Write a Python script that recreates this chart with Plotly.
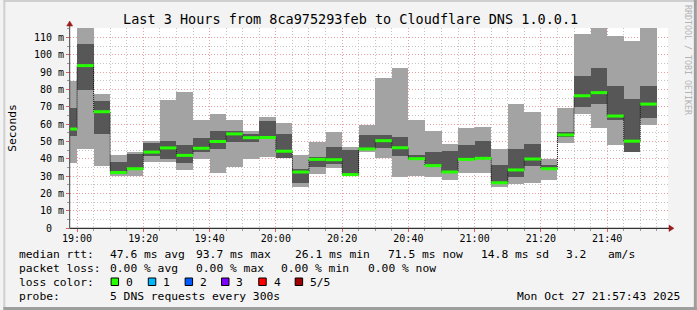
import plotly.graph_objects as go

# ---------------- data (ms) ----------------
day = "2025-10-27 "
bar_start = ["18:55", "19:00", "19:05", "19:10", "19:15", "19:20", "19:25", "19:30", "19:35",
             "19:40", "19:45", "19:50", "19:55", "20:00", "20:05", "20:10", "20:15", "20:20",
             "20:25", "20:30", "20:35", "20:40", "20:45", "20:50", "20:55", "21:00", "21:05",
             "21:10", "21:15", "21:20", "21:25", "21:30", "21:35", "21:40", "21:45", "21:50"]
bar_end_last = "21:55"

ping_min = [37.7, 45.6, 36.0, 29.8, 29.8, 37.9, 38.3, 33.5, 40.0,
            32.0, 35.4, 40.0, 40.9, 40.5, 23.7, 31.3, 34.6, 30.2,
            44.4, 40.6, 29.6, 30.2, 29.6, 27.7, 31.9, 31.9, 23.8,
            25.4, 26.0, 27.8, 49.0, 65.8, 57.9, 48.1, 44.0, 59.6]
ping_q1 = [53.3, 79.8, 54.4, 31.0, 33.5, 41.7, 39.8, 37.5, 44.0,
           45.7, 49.6, 49.8, 51.5, 40.6, 26.0, 35.4, 37.1, 30.5,
           44.8, 46.3, 41.7, 39.6, 35.6, 32.0, 39.2, 39.8, 25.6,
           29.6, 35.8, 33.4, 52.7, 70.0, 71.5, 62.3, 44.1, 63.7]
ping_median = [57.1, 93.7, 67.1, 32.0, 34.2, 43.8, 46.2, 41.9, 46.0,
               49.9, 54.3, 52.1, 52.2, 44.3, 32.3, 39.6, 39.4, 30.8,
               45.6, 50.4, 46.3, 40.0, 36.0, 32.3, 39.6, 40.2, 26.1,
               33.5, 39.8, 34.2, 53.7, 76.3, 78.1, 64.6, 50.1, 71.5]
ping_q3 = [69.2, 106.2, 73.3, 38.3, 43.1, 49.6, 50.2, 47.9, 52.1,
           56.1, 56.0, 54.0, 61.9, 54.3, 34.0, 41.2, 46.7, 45.1,
           53.8, 53.7, 52.7, 42.1, 43.8, 44.4, 47.9, 50.2, 36.3,
           45.7, 48.5, 36.1, 55.2, 87.7, 92.1, 81.9, 74.5, 81.9]
ping_max = [84.8, 125.0, 77.3, 42.1, 44.0, 49.8, 73.8, 78.5, 62.3,
            65.8, 62.2, 56.0, 64.1, 60.6, 42.1, 49.8, 55.6, 46.9,
            59.6, 86.5, 92.3, 62.3, 56.0, 48.5, 57.7, 58.5, 45.6,
            71.6, 66.9, 40.0, 69.4, 111.9, 125.0, 110.8, 108.0, 125.0]

y_tick_vals = [0, 10, 20, 30, 40, 50, 60, 70, 80, 90, 100, 110]
y_tick_text = ["0<span style='color:rgba(0,0,0,0)'>_m</span>", "10 m", "20 m", "30 m", "40 m",
               "50 m", "60 m", "70 m", "80 m", "90 m", "100 m", "110 m"]

title_text = "Last 3 Hours from 8ca975293feb to Cloudflare DNS 1.0.0.1"
rtt_labels = ["median rtt:", "47.6 ms avg", "93.7 ms max", "26.1 ms min", "71.5 ms now",
              "14.8 ms sd", "3.2", "am/s"]
loss_labels = ["packet loss:", "0.00 % avg", "0.00 % max", "0.00 % min", "0.00 % now"]
loss_color_names = ["0", "1", "2", "3", "4", "5/5"]
loss_color_values = ["#26ff00", "#00b8ff", "#0059ff", "#7e00ff", "#ff0000", "#a00000"]
probe_text = "5 DNS requests every 300s"
date_text = "Mon Oct 27 21:57:43 2025"

# ---------------- layout geometry (pixels) ----------------
W, H = 697, 310
L, R, T, B = 67, 668, 28, 228
MONO = "DejaVu Sans Mono"


def px(x):
    return (x - L) / (R - L)


def py(y):
    return (B - y) / (B - T)


xs = [day + t for t in bar_start]
x_end = day + bar_end_last
BW = 300000  # 5 min in ms

LIGHT = "#a3a3a3"
DARK = "#575757"

fig = go.Figure()


def band(lo, hi, color):
    fig.add_trace(go.Bar(
        x=xs, base=lo, y=[h - l for l, h in zip(lo, hi)],
        width=BW, offset=0, marker=dict(color=color, line=dict(width=0)),
        hoverinfo="skip", showlegend=False))


band(ping_min, ping_q1, LIGHT)
band(ping_q1, ping_q3, DARK)
band(ping_q3, ping_max, LIGHT)

# median step line (black dotted connectors)
fig.add_trace(go.Scatter(
    x=xs + [x_end], y=ping_median + [ping_median[-1]], mode="lines",
    line=dict(color="#111111", width=1, shape="hv", dash="1px,1px"),
    hoverinfo="skip", showlegend=False))

# green median segments
gx, gy = [], []
ends = xs[1:] + [x_end]
for s, e, m in zip(xs, ends, ping_median):
    gx += [s, e, None]
    gy += [m, m, None]
fig.add_trace(go.Scatter(
    x=gx, y=gy, mode="lines", line=dict(color=loss_color_values[0], width=3),
    hoverinfo="skip", showlegend=False))

GRID_MINOR = "#c4c4c4"
GRID_MAJOR = "#eaa0a0"
TICKFONT = dict(family=MONO, size=10, color="#000000")

fig.update_layout(
    width=W, height=H,
    margin=dict(l=L, r=W - R, t=T, b=H - B),
    paper_bgcolor="#f3f3f3", plot_bgcolor="#ffffff",
    barmode="overlay", bargap=0,
    showlegend=False,
    xaxis=dict(
        type="date",
        range=[day + "18:57:52", day + "21:58:22"],
        tick0=day + "19:00", dtick=20 * 60 * 1000, tickformat="%H:%M",
        showgrid=True, gridcolor=GRID_MAJOR, griddash="1px,2px", gridwidth=1,
        minor=dict(dtick=5 * 60 * 1000, showgrid=True, gridcolor=GRID_MINOR,
                   griddash="1px,2px", ticks="outside", ticklen=2, tickcolor="#999999"),
        ticks="outside", ticklen=3, tickcolor="#e06060", ticklabelstandoff=-2,
        showline=False, zeroline=False, tickfont=TICKFONT, fixedrange=True,
    ),
    yaxis=dict(
        range=[0, 115.4],
        tickvals=y_tick_vals, ticktext=y_tick_text,
        showgrid=True, gridcolor=GRID_MAJOR, griddash="1px,2px", gridwidth=1,
        minor=dict(dtick=5, showgrid=True, gridcolor=GRID_MINOR, griddash="1px,2px",
                   ticks="outside", ticklen=2, tickcolor="#999999"),
        ticks="outside", ticklen=3, tickcolor="#e06060",
        showline=False, zeroline=False, tickfont=TICKFONT, fixedrange=True,
        title=dict(text="Seconds", font=dict(family=MONO, size=11.3, color="#000000"),
                   standoff=14),
    ),
)

shapes = []
# frame of the image
shapes.append(dict(type="line", xref="paper", yref="paper", x0=px(0), x1=px(W), y0=py(1), y1=py(1),
                   line=dict(color="#cfcfcf", width=2)))
shapes.append(dict(type="line", xref="paper", yref="paper", x0=px(1), x1=px(1), y0=py(0), y1=py(H),
                   line=dict(color="#cfcfcf", width=2)))
shapes.append(dict(type="line", xref="paper", yref="paper", x0=px(0), x1=px(W), y0=py(H - 1.5), y1=py(H - 1.5),
                   line=dict(color="#9e9e9e", width=3)))
shapes.append(dict(type="line", xref="paper", yref="paper", x0=px(W - 1.5), x1=px(W - 1.5), y0=py(0), y1=py(H),
                   line=dict(color="#9e9e9e", width=3)))
# axis lines
shapes.append(dict(type="line", xref="paper", yref="paper", x0=px(66.5), x1=px(670), y0=py(228.3), y1=py(228.3),
                   line=dict(color="#000000", width=1)))
shapes.append(dict(type="line", xref="paper", yref="paper", x0=px(66.7), x1=px(66.7), y0=py(228.3), y1=py(24),
                   line=dict(color="#404040", width=1)))
# arrows
ARROW = "#9a1c1c"
shapes.append(dict(type="path", xref="paper", yref="paper",
                   path=f"M {px(669)} {py(225)} L {px(674)} {py(228.3)} L {px(669)} {py(231.5)} Z",
                   fillcolor=ARROW, line=dict(color=ARROW, width=0.5)))
shapes.append(dict(type="path", xref="paper", yref="paper",
                   path=f"M {px(63.7)} {py(26)} L {px(66.7)} {py(21)} L {px(69.7)} {py(26)} Z",
                   fillcolor=ARROW, line=dict(color=ARROW, width=0.5)))

annotations = []


def text(x, y, s, size=11.3, anchor="left", color="#000000", angle=0):
    annotations.append(dict(
        x=px(x), y=py(y), xref="paper", yref="paper", text=s, showarrow=False,
        xanchor=anchor, yanchor="middle", textangle=angle, borderpad=0,
        font=dict(family=MONO, size=size, color=color)))


text(W / 2, 19, title_text, size=13.5, anchor="center")
text(688, 60, "RRDTOOL / TOBI OETIKER", size=8.3, anchor="center", color="#b4b4b4", angle=90)

rtt_x = [15, 106.3, 192.3, 292.3, 385.3, 478.7, 564.3, 606.7]
for xx, s in zip(rtt_x, rtt_labels):
    text(xx, 254.5, s)
loss_x = [15, 106.3, 192.3, 278.3, 365]
for xx, s in zip(loss_x, loss_labels):
    text(xx, 268.5, s)
text(15, 282.5, "loss color:")
box_x = [108.3, 145.7, 182.7, 219.3, 256.7, 293.3]
for bx, name, col in zip(box_x, loss_color_names, loss_color_values):
    shapes.append(dict(type="rect", xref="paper", yref="paper",
                       x0=px(bx), x1=px(bx + 7.5), y0=py(278), y1=py(285.5),
                       fillcolor=col, line=dict(color="#000000", width=1)))
    text(bx + 14, 282.5, name)
text(15, 296.5, "probe:")
text(106.3, 296.5, probe_text)
text(681.5, 296.5, date_text, anchor="right")

fig.update_layout(shapes=shapes, annotations=annotations)
fig.write_html("out.html")
